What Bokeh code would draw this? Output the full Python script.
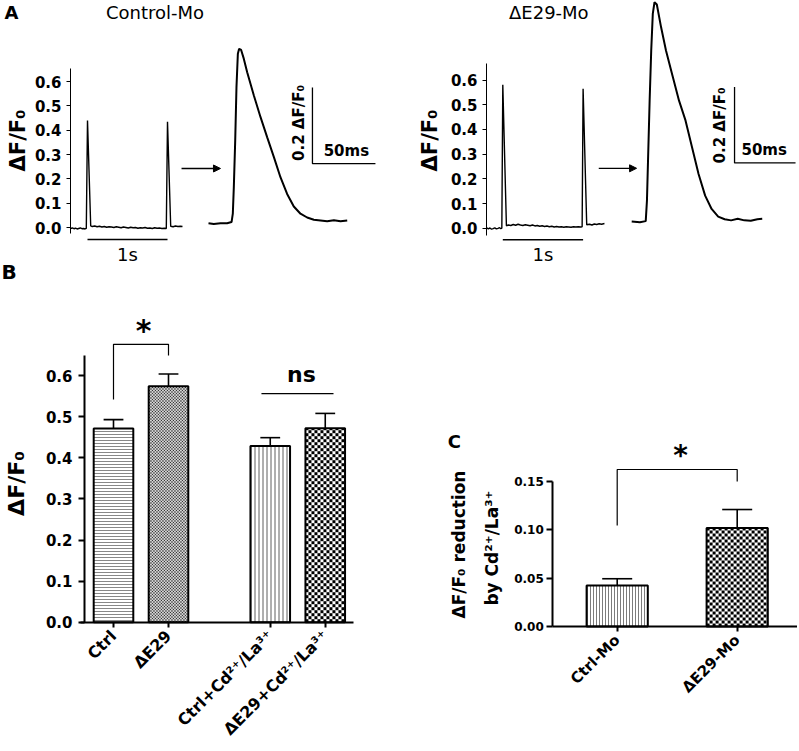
import math
from bokeh.plotting import figure
from bokeh.models import (Range1d, LinearAxis, FixedTicker, NumeralTickFormatter, Label,
                          Arrow, NormalHead)
from bokeh.embed import file_html
from bokeh.resources import INLINE

FONT = "DejaVu Sans"

# ---------------- data ----------------
# Panel A: whole traces (time in s, ΔF/F0)
CTRL_T = [-0.2125, -0.19, -0.17, -0.15, -0.13, -0.11, -0.09, -0.07, -0.05, -0.03, -0.015, 0.0, 0.04,
          0.06, 0.09, 0.12, 0.15, 0.18, 0.21, 0.24, 0.27, 0.30, 0.33, 0.36, 0.39, 0.42, 0.45, 0.48,
          0.51, 0.54, 0.57, 0.60, 0.63, 0.66, 0.69, 0.72, 0.75, 0.78, 0.81, 0.84, 0.87, 0.90, 0.93,
          0.96, 0.985, 1.0, 1.04, 1.07, 1.10, 1.13, 1.16, 1.1875]
CTRL_Y = [-0.004, -0.002, -0.005, -0.003, -0.006, -0.004, -0.002, -0.005, -0.004, -0.006, -0.004, 0.44, 0.007,
          0.004, 0.006, 0.003, 0.005, 0.002, 0.004, 0.001, 0.003, 0.002, 0.000, 0.003, 0.001, -0.001, 0.002, 0.000,
          -0.002, 0.001, -0.001, 0.000, -0.003, -0.001, -0.002, 0.000, -0.003, -0.002, -0.004, -0.001, -0.003, -0.002, -0.004,
          -0.003, -0.004, 0.435, 0.005, 0.003, 0.006, 0.004, 0.005, 0.004]
E29_T = [-0.20, -0.18, -0.16, -0.14, -0.12, -0.10, -0.08, -0.06, -0.04, -0.025, -0.012, 0.0, 0.045,
         0.07, 0.10, 0.13, 0.16, 0.19, 0.22, 0.25, 0.28, 0.31, 0.34, 0.37, 0.40, 0.43, 0.46, 0.49,
         0.52, 0.55, 0.58, 0.61, 0.64, 0.67, 0.70, 0.73, 0.76, 0.79, 0.82, 0.85, 0.88, 0.91, 0.94,
         0.97, 0.988, 1.0, 1.045, 1.08, 1.11, 1.14, 1.17, 1.20, 1.23, 1.266]
E29_Y = [0.002, -0.003, 0.001, -0.004, -0.002, 0.001, -0.003, -0.001, 0.002, -0.002, 0.000, 0.581, 0.010,
         0.013, 0.011, 0.015, 0.012, 0.016, 0.013, 0.011, 0.014, 0.012, 0.010, 0.013, 0.009, 0.011, 0.008, 0.010,
         0.007, 0.009, 0.006, 0.008, 0.005, 0.007, 0.005, 0.006, 0.004, 0.006, 0.005, 0.004, 0.006, 0.005, 0.006,
         0.005, 0.006, 0.565, 0.014, 0.016, 0.013, 0.017, 0.015, 0.018, 0.016, 0.019]

# Panel A: single expanded transients (time in ms, ΔF/F0)
CTRL_ZOOM_MS = [0.0, 4.2, 9.5, 14.8, 18.3, 19.3, 20.1, 21.2, 22.2, 23.3, 24.3, 25.9, 28.0, 30.7, 36.0,
                41.3, 46.6, 51.9, 57.1, 62.4, 67.7, 73.0, 78.3, 83.6, 88.9, 94.2, 99.5, 104.8, 110.1]
CTRL_ZOOM_Y = [0.0, -0.002, 0.0, 0.0, 0.003, 0.025, 0.095, 0.218, 0.358, 0.446, 0.459, 0.456, 0.433, 0.397, 0.336,
               0.279, 0.226, 0.174, 0.121, 0.077, 0.044, 0.025, 0.015, 0.009, 0.007, 0.005, 0.008, 0.005, 0.007]
E29_ZOOM_MS = [0.0, 6.7, 11.5, 12.5, 13.6, 14.7, 16.0, 17.3, 18.7, 20.6, 24.1, 28.1, 33.4, 38.8, 44.1,
               49.4, 54.8, 60.2, 65.5, 70.9, 76.2, 81.5, 86.9, 92.3, 97.6, 103.0, 107.0]
E29_ZOOM_Y = [0.0, -0.002, 0.001, 0.055, 0.187, 0.318, 0.45, 0.547, 0.577, 0.571, 0.511, 0.450, 0.384, 0.318, 0.266,
              0.196, 0.125, 0.068, 0.033, 0.013, 0.006, 0.003, 0.007, 0.003, 0.002, 0.006, 0.007]
A_TICKS = [0.0, 0.1, 0.2, 0.3, 0.4, 0.5, 0.6]

# Panel B
B_CATS = ["Ctrl", "ΔE29", "Ctrl+Cd²⁺/La³⁺", "ΔE29+Cd²⁺/La³⁺"]
B_MEAN = [0.471, 0.574, 0.429, 0.472]
B_SEM = [0.022, 0.030, 0.020, 0.036]
B_TICKS = [0.0, 0.1, 0.2, 0.3, 0.4, 0.5, 0.6]

# Panel C
C_CATS = ["Ctrl-Mo", "ΔE29-Mo"]
C_MEAN = [0.0424, 0.102]
C_SEM = [0.007, 0.019]
C_TICKS = [0.0, 0.05, 0.10, 0.15]

# category positions (layout, not data)
B_POS = [1.0, 2.0, 3.85, 4.85]
C_POS = [1.0, 2.0]

# ---------------- canvas & panel scales ----------------
W, H = 797, 749


def xr(v0, px0, k):
    """x range in which value v0 sits at canvas pixel px0, k pixels per unit"""
    return Range1d(v0 - px0 / k, v0 + (W - px0) / k)


def yr(v0, py0, k):
    """y range in which value v0 sits at canvas pixel row py0 (from top), k pixels per unit"""
    return Range1d(v0 - (H - py0) / k, v0 + py0 / k)


p = figure(width=W, height=H, x_range=Range1d(0, W), y_range=Range1d(H, 0),
           output_backend="svg", toolbar_location=None,
           x_axis_location=None, y_axis_location=None,
           min_border_left=0, min_border_right=0, min_border_top=0, min_border_bottom=0,
           outline_line_color=None)
p.grid.visible = False
p.background_fill_color = "white"
p.border_fill_color = "white"

B_KX, B_KY = 55.0, 411.0
C_KX, C_KY = 120.0, 966.7
p.extra_x_ranges = {
    "tlx": xr(0, 87, 80.0), "tlz": xr(0, 208, 1.26),
    "trx": xr(0, 502.3, 80.3), "trz": xr(0, 631.2, 1.22),
    "bx": xr(1, 113, B_KX), "cx": xr(1, 616.7, C_KX),
}
p.extra_y_ranges = {
    "tly": yr(0, 227, 243.3), "tlzy": yr(0, 222.7, 380.0),
    "try": yr(0, 227.7, 247.0), "trzy": yr(0, 221, 380.0),
    "by": yr(0, 621.7, B_KY), "cy": yr(0, 626, C_KY),
}


def lab(x, y, text, size, bold=True, align="center", angle=0.0, xn="default", yn="default"):
    p.add_layout(Label(x=x, y=y, text=text, text_font=FONT, text_font_size=f"{size}px",
                       text_font_style="bold" if bold else "normal", text_color="black",
                       text_align=align, text_baseline="middle", angle=angle,
                       x_range_name=xn, y_range_name=yn))


def y_axis(xn, yn, loc, ticks, fmt, bounds, size, width, tick_out, standoff):
    p.add_layout(LinearAxis(x_range_name=xn, y_range_name=yn, fixed_location=loc, bounds=bounds,
                            ticker=FixedTicker(ticks=ticks), formatter=NumeralTickFormatter(format=fmt),
                            major_label_text_font=FONT, major_label_text_font_style="bold",
                            major_label_text_font_size=f"{size}px", major_label_text_color="black",
                            axis_line_width=width, axis_line_color="black",
                            major_tick_line_width=width, major_tick_line_color="black",
                            major_tick_out=tick_out, major_tick_in=0,
                            minor_tick_out=0, minor_tick_in=0, major_label_standoff=standoff), "left")


def x_axis(xn, yn, pos, cats, bounds, size):
    p.add_layout(LinearAxis(x_range_name=xn, y_range_name=yn, fixed_location=0.0, bounds=bounds,
                            ticker=FixedTicker(ticks=pos),
                            major_label_overrides={float(k): v for k, v in zip(pos, cats)},
                            major_label_orientation=math.pi / 4,
                            major_label_text_font=FONT, major_label_text_font_style="bold",
                            major_label_text_font_size=f"{size}px", major_label_text_color="black",
                            axis_line_width=2, axis_line_color="black",
                            major_tick_line_width=2, major_tick_line_color="black",
                            major_tick_out=5, major_tick_in=0,
                            minor_tick_out=0, minor_tick_in=0, major_label_standoff=6), "below")


def checker(xn, yn, xc, top, width, kx, ky, cell, color):
    """checkerboard fill pattern inside a bar (cell size in pixels)"""
    dx, dy = cell / kx, cell / ky
    x0, x1 = xc - width / 2, xc + width / 2
    nx, ny = int(math.ceil((x1 - x0) / dx)), int(math.ceil(top / dy))
    L, R, Bt, T = [], [], [], []
    for i in range(nx):
        for j in range(ny):
            if (i + j) % 2:
                continue
            L.append(x0 + i * dx)
            R.append(min(x0 + (i + 1) * dx, x1))
            Bt.append(j * dy)
            T.append(min((j + 1) * dy, top))
    p.quad(left=L, right=R, bottom=Bt, top=T, fill_color=color, line_color=None,
           x_range_name=xn, y_range_name=yn)


def bars(xn, yn, pos, means, sems, width, cap, styles, kx, ky):
    for xp, m, s, st in zip(pos, means, sems, styles):
        hatch = {k: v for k, v in st.items() if k.startswith("hatch")}
        p.vbar(x=[xp], top=[m], bottom=0, width=width, fill_color="white", line_color=None,
               x_range_name=xn, y_range_name=yn, **hatch)
        if "checker" in st:
            checker(xn, yn, xp, m, width, kx, ky, st["checker"], st["color"])
        p.segment([xp], [m], [xp], [m + s], line_color="black", line_width=1.6,
                  x_range_name=xn, y_range_name=yn)
        p.segment([xp - cap], [m + s], [xp + cap], [m + s], line_color="black", line_width=1.6,
                  x_range_name=xn, y_range_name=yn)
        p.vbar(x=[xp], top=[m], bottom=0, width=width, fill_color=None, line_color="black",
               line_width=2, x_range_name=xn, y_range_name=yn)


# ================= Panel A (left: Control) =================
y_axis("tlx", "tly", -0.2125, A_TICKS, "0.0", (-0.025, 0.653), 15, 1, 4, 5)
p.line(CTRL_T, CTRL_Y, line_color="black", line_width=1.4, x_range_name="tlx", y_range_name="tly")
p.line(CTRL_ZOOM_MS, CTRL_ZOOM_Y, line_color="black", line_width=2, x_range_name="tlz", y_range_name="tlzy")
p.line([0.0, 1.0], [-0.0493, -0.0493], line_color="black", line_width=1.5,
       x_range_name="tlx", y_range_name="tly")                                   # 1 s bar
lab(0.5, -0.113, "1s", 18, bold=False, xn="tlx", yn="tly")
p.line([82.5, 82.5, 132.5], [0.357, 0.157, 0.157], line_color="black", line_width=1.3,
       x_range_name="tlz", y_range_name="tlzy")                                   # 0.2 / 50 ms bars
lab(71.7, 0.2637, "0.2 ΔF/F₀", 15, angle=math.pi / 2, xn="tlz", yn="tlzy")
lab(109.4, 0.191, "50ms", 15, xn="tlz", yn="tlzy")
p.add_layout(Arrow(end=NormalHead(size=7, fill_color="black", line_color="black"),
                   x_start=-21.4, y_start=0.144, x_end=9.5, y_end=0.144,
                   line_width=1.3, line_color="black", x_range_name="tlz", y_range_name="tlzy"))
lab(0.844, 0.8857, "Control-Mo", 18, bold=False, xn="tlx", yn="tly")
lab(4, 12, "A", 18, align="left")
lab(17.5, 140, "ΔF/F₀", 21, angle=math.pi / 2)

# ================= Panel A (right: ΔE29) =================
y_axis("trx", "try", -0.203, A_TICKS, "0.0", (-0.0296, 0.666), 15, 1, 4, 5)
p.line(E29_T, E29_Y, line_color="black", line_width=1.4, x_range_name="trx", y_range_name="try")
p.line(E29_ZOOM_MS, E29_ZOOM_Y, line_color="black", line_width=2, x_range_name="trz", y_range_name="trzy")
p.line([0.0, 1.0], [-0.047, -0.047], line_color="black", line_width=1.5,
       x_range_name="trx", y_range_name="try")
lab(0.5, -0.1085, "1s", 18, bold=False, xn="trx", yn="try")
p.line([84.3, 84.3, 134.3], [0.3542, 0.1542, 0.1542], line_color="black", line_width=1.3,
       x_range_name="trz", y_range_name="trzy")
lab(72.2, 0.2526, "0.2 ΔF/F₀", 15, angle=math.pi / 2, xn="trz", yn="trzy")
lab(108.6, 0.187, "50ms", 15, xn="trz", yn="trzy")
p.add_layout(Arrow(end=NormalHead(size=7, fill_color="black", line_color="black"),
                   x_start=-27.0, y_start=0.14, x_end=4.0, y_end=0.14,
                   line_width=1.3, line_color="black", x_range_name="trz", y_range_name="trzy"))
lab(0.573, 0.8753, "ΔE29-Mo", 18, bold=False, xn="trx", yn="try")
lab(429.2, 140, "ΔF/F₀", 21, angle=math.pi / 2)

# ================= Panel B =================
y_axis("bx", "by", 0.4727, B_TICKS, "0.0", (0.0, 0.649), 15, 2, 6, 6)
x_axis("bx", "by", B_POS, B_CATS, (0.4, 5.3636), 16)
b_styles = [
    dict(hatch_pattern="horizontal_line", hatch_scale=3, hatch_weight=0.7, hatch_color="#555555"),
    dict(checker=1.5, color="#333333"),
    dict(hatch_pattern="vertical_line", hatch_scale=4, hatch_weight=0.8, hatch_color="#333333"),
    dict(checker=3.0, color="black"),
]
bars("bx", "by", B_POS, B_MEAN, B_SEM, 0.72, 0.18, b_styles, B_KX, B_KY)
p.line([B_POS[0], B_POS[0], B_POS[1], B_POS[1]], [0.542, 0.676, 0.676, 0.649],
       line_color="black", line_width=1.2, x_range_name="bx", y_range_name="by")
lab(1.545, 0.7097, "*", 30, xn="bx", yn="by")
p.line([3.69, 5.0], [0.556, 0.556], line_color="black", line_width=1.2, x_range_name="bx", y_range_name="by")
lab(4.418, 0.6022, "ns", 22, xn="bx", yn="by")
lab(1, 271, "B", 20, align="left")
lab(16, 483, "ΔF/F₀", 22, angle=math.pi / 2)

# ================= Panel C =================
y_axis("cx", "cy", 0.4633, C_TICKS, "0.00", (0.0, 0.15), 12, 2, 6, 3)
x_axis("cx", "cy", C_POS, C_CATS, (0.4633, 2.5), 15)
c_styles = [
    dict(hatch_pattern="vertical_line", hatch_scale=3, hatch_weight=0.7, hatch_color="#444444"),
    dict(checker=3.0, color="black"),
]
bars("cx", "cy", C_POS, C_MEAN, C_SEM, 0.51, 0.125, c_styles, C_KX, C_KY)
p.line([C_POS[0], C_POS[0], C_POS[1], C_POS[1]], [0.1045, 0.1624, 0.1624, 0.150],
       line_color="black", line_width=1.2, x_range_name="cx", y_range_name="cy")
lab(1.5275, 0.1774, "*", 28, xn="cx", yn="cy")
lab(453.8, 440.8, "C", 18)
lab(458, 544, "ΔF/F₀ reduction", 17, angle=math.pi / 2)
lab(491, 547.5, "by Cd²⁺/La³⁺", 17, angle=math.pi / 2)

open("out.html", "w").write(file_html(p, INLINE))
